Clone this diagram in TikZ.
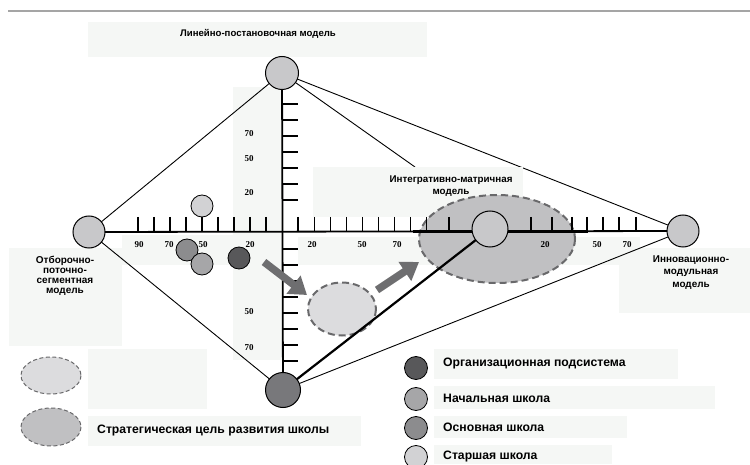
\documentclass[tikz,border=0pt]{standalone}
\usepackage{fontspec}
\setmainfont{Liberation Sans}
\newfontfamily\numfont{Liberation Serif}
\usetikzlibrary{arrows.meta}
\definecolor{pale}{RGB}{245,247,245}
\definecolor{nodegray}{RGB}{200,200,202}
\definecolor{botgray}{RGB}{120,120,123}
\definecolor{orggray}{RGB}{88,88,90}
\definecolor{nachgray}{RGB}{166,166,168}
\definecolor{osngray}{RGB}{140,140,142}
\definecolor{stargray}{RGB}{210,210,212}
\definecolor{goalgray}{RGB}{192,192,194}
\definecolor{smallgray}{RGB}{220,220,222}
\definecolor{dashgray}{RGB}{105,105,107}
\definecolor{arrowgray}{RGB}{110,110,112}
\definecolor{rulegray}{RGB}{165,165,165}
\begin{document}
\begin{tikzpicture}[x=1pt,y=-1pt,
  palebox/.style={fill=pale, draw=none},
  modelnode/.style={circle, draw=black, line width=1pt, fill=nodegray, inner sep=0pt, minimum size=33pt},
  datadot/.style={circle, draw=black, line width=0.8pt, inner sep=0pt, minimum size=22pt},
  legdot/.style={circle, draw=black, line width=0.8pt, inner sep=0pt, minimum size=23pt},
  thinline/.style={draw=black, line width=0.9pt},
  axisline/.style={draw=black, line width=1.8pt},
  tickline/.style={draw=black, line width=1.2pt},
  num/.style={font=\numfont\bfseries\fontsize{9}{10}\selectfont, inner sep=0pt},
  lbl/.style={font=\bfseries\fontsize{10}{11}\selectfont, align=center, inner sep=0pt},
  legtext/.style={font=\bfseries\fontsize{12.2}{14}\selectfont, anchor=west, inner sep=0pt},
  bigarrow/.style={draw=arrowgray, line width=7.5pt, -{Triangle[width=22pt,length=17pt]}},
  goaldash/.style={draw=dashgray, line width=2pt, dash pattern=on 7pt off 4pt},
  legdash/.style={draw=dashgray, line width=1pt, dash pattern=on 4pt off 2.5pt}
]
\useasboundingbox (0,0) rectangle (750,465);
% top rule
\draw[rulegray, line width=1.5pt] (8,11) -- (750,11);
% pale boxes
\fill[palebox] (88,22) rectangle (427,57);
\fill[palebox] (233,87) rectangle (282,360);
\fill[palebox] (122,235) rectangle (267,265);
\fill[palebox] (298,237) rectangle (640,265);
\fill[palebox] (9,248) rectangle (122,346);
\fill[palebox] (619,248) rectangle (750,313);
\fill[palebox] (88,349) rectangle (207,409);
\fill[palebox] (88,416) rectangle (361,446);
\fill[palebox] (434,349) rectangle (678,379);
\fill[palebox] (434,386) rectangle (715,409);
\fill[palebox] (434,416) rectangle (627,438);
\fill[palebox] (434,445) rectangle (612,464);
% model nodes (positions)
\coordinate (topc) at (282,73);
\coordinate (leftc) at (89,232);
\coordinate (rightc) at (683,231);
\coordinate (botc) at (283,390);
\coordinate (cenc) at (490,229);
\coordinate (midend) at (415,167);
% thin connectors
\draw[thinline] (topc) -- (leftc);
\draw[thinline] (topc) -- (rightc);
\draw[thinline] (topc) -- (midend);
\draw[thinline] (botc) -- (leftc);
\draw[thinline] (botc) -- (rightc);
% integrative label box (covers mid line)
\fill[palebox] (313,167) rectangle (523,217);
% goal ellipse
\draw[goaldash, fill=goalgray] (497,239) ellipse [x radius=78, y radius=44];
% small ellipse
\draw[goaldash, fill=smallgray] (342,309) ellipse [x radius=34, y radius=26.5];
% axes
\draw[axisline] (leftc) -- (rightc);
\draw[line width=2.6pt] (413,231.6) -- (588,231.6);
\draw[axisline] (topc) -- (botc);
% ticks on x axis
\foreach \x in {138,154,170,186,202,218,234,250,266,298,314.5,330.5,346.5,362.5,378.5,394.5,410.5,426.5,449,531,552,572,587,603,619,636}
  \draw[tickline] (\x,217) -- (\x,232);
% ticks on y axis
\foreach \y in {104,120,136,152,168,184,200,249,265,281,297,313,329,345,361}
  \draw[tickline] (282,\y) -- (298,\y);
% axis numbers
\node[num] at (139,245) {90};
\node[num] at (169,245) {70};
\node[num] at (203,245) {50};
\node[num] at (250,245) {20};
\node[num] at (312,245) {20};
\node[num] at (362,245) {50};
\node[num] at (397,245) {70};
\node[num] at (545,245) {20};
\node[num] at (597,245) {50};
\node[num] at (627,245) {70};
\node[num] at (249,134) {70};
\node[num] at (249,159) {50};
\node[num] at (249,193) {20};
\node[num] at (249,312) {50};
\node[num] at (249,348) {70};
% thick connector
\draw[draw=black, line width=2.2pt] (botc) -- (cenc);
% model circles
\node[modelnode] (top) at (topc) {};
\node[modelnode, minimum size=32pt] (left) at (leftc) {};
\node[modelnode, minimum size=32pt] (right) at (rightc) {};
\node[modelnode, minimum size=36pt] (cen) at (cenc) {};
\node[modelnode, minimum size=35pt, fill=botgray] (bot) at (botc) {};
% data circles
\node[datadot, fill=stargray] (dstar) at (202,206) {};
\node[datadot, fill=osngray] (dosn) at (187,250) {};
\node[datadot, fill=nachgray] (dnach) at (202,264) {};
\node[datadot, fill=orggray] (dorg) at (239,258) {};
% arrows
\coordinate (a1s) at (264,262);
\coordinate (a1e) at (307,295);
\coordinate (a2s) at (377,290);
\coordinate (a2e) at (419,262);
\draw[bigarrow] (a1s) -- (a1e);
\draw[bigarrow] (a2s) -- (a2e);
% model labels
\node[lbl, font=\bfseries\fontsize{9.6}{11}\selectfont] (ttitle) at (258,34) {Линейно-постановочная модель};
\node[lbl, font=\bfseries\fontsize{9.8}{12}\selectfont] (tint) at (451,186) {Интегративно-матричная\\модель};
\node[lbl, font=\bfseries\fontsize{9.9}{12.5}\selectfont] (tinn) at (691,272.5) {Инновационно-\\модульная\\модель};
\node[lbl, font=\bfseries\fontsize{10}{10}\selectfont] (totb) at (65,275.5) {Отборочно-\\поточно-\\сегментная\\модель};
% legend
\draw[legdash, fill=smallgray] (51,375.5) ellipse [x radius=30, y radius=18.5];
\draw[legdash, fill=goalgray] (51,427) ellipse [x radius=30, y radius=19];
\node[legtext] (tgoal) at (97,431) {Стратегическая цель развития школы};
\node[legdot, fill=orggray] (lorg) at (416,368) {};
\node[legdot, fill=nachgray] (lnach) at (416,399) {};
\node[legdot, fill=osngray] (losn) at (416,428) {};
\node[legdot, fill=stargray] (lstar) at (416,457) {};
\node[legtext] (torg) at (443,364) {Организационная подсистема};
\node[legtext] (tnach) at (443,398) {Начальная школа};
\node[legtext] (tosn) at (443,427.5) {Основная школа};
\node[legtext] (tstar) at (443,456.5) {Старшая школа};
\end{tikzpicture}
\end{document}
